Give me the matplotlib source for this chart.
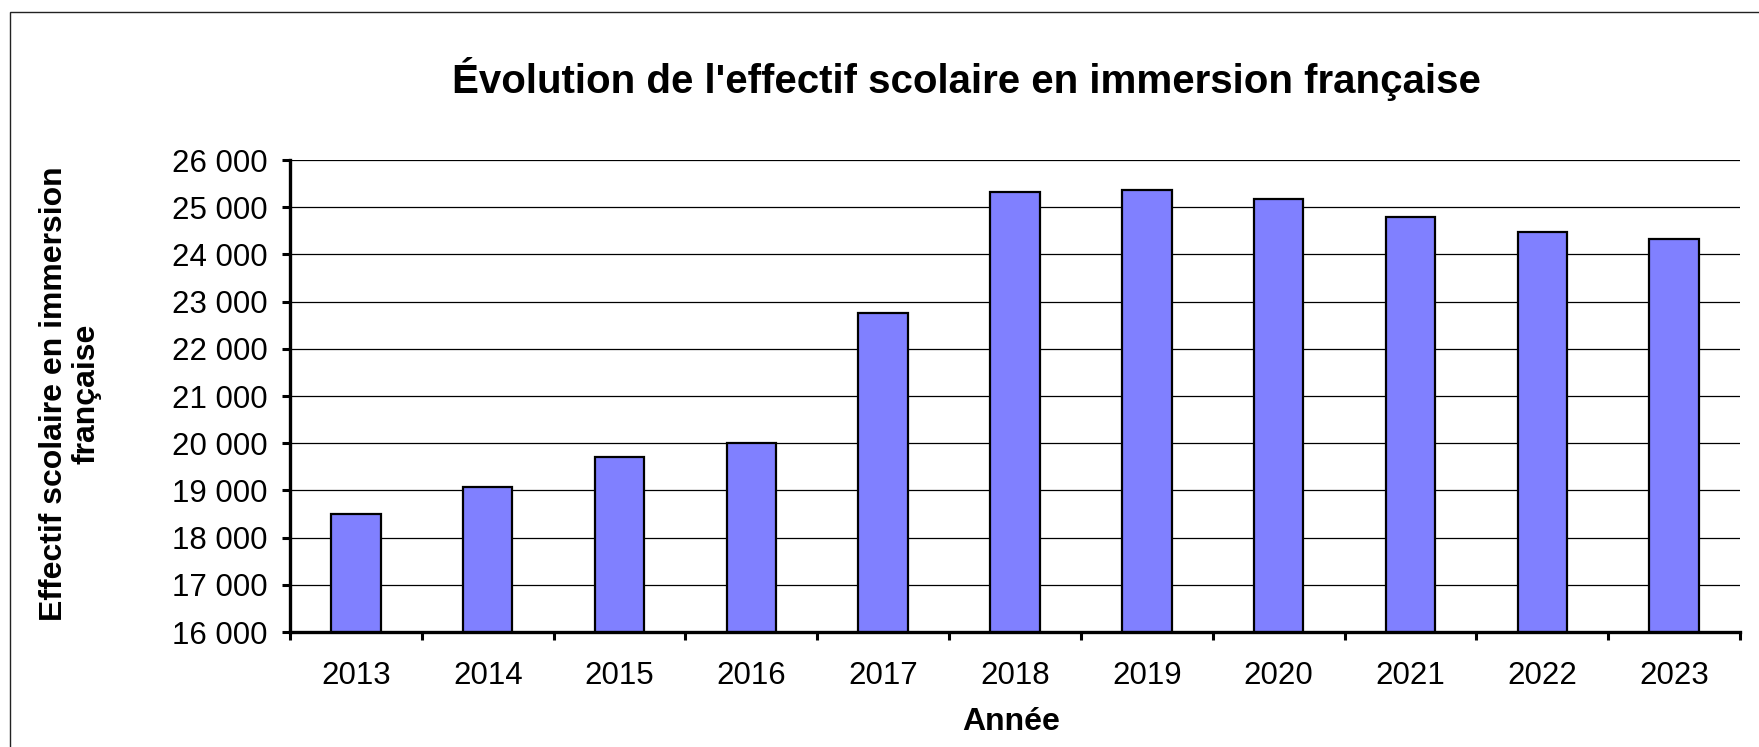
import matplotlib
matplotlib.use("Agg")
import matplotlib.pyplot as plt
from matplotlib.patches import Rectangle
from matplotlib.ticker import FixedLocator, FuncFormatter
import numpy as np

years = ["2013", "2014", "2015", "2016", "2017", "2018", "2019", "2020", "2021", "2022", "2023"]
effectifs = [18500, 19070, 19710, 20010, 22760, 25320, 25370, 25170, 24790, 24480, 24320]
yticks = [16000, 17000, 18000, 19000, 20000, 21000, 22000, 23000, 24000, 25000, 26000]

title = "Évolution de l'effectif scolaire en immersion française"
ylabel = "Effectif scolaire en immersion\nfrançaise"
xlabel = "Année"

plt.rcParams['font.family'] = ['Liberation Sans', 'DejaVu Sans']

W, H = 1759, 747
fig = plt.figure(figsize=(W / 100, H / 100), dpi=100)
fig.patch.set_facecolor("white")

# outer chart border (extends past right/bottom edges)
fig.patches.append(Rectangle((10 / W, -0.05), 1.2, 1 - 12 / H + 0.05,
                             transform=fig.transFigure, fill=False,
                             edgecolor="#222222", linewidth=1.0))

ax = fig.add_axes([290 / W, (H - 632) / H, 1450 / W, 472 / H])
x = np.arange(len(years))
ax.bar(x, effectifs, width=0.375, color="#8080FF", edgecolor="black",
       linewidth=1.6, zorder=3)

ax.set_xlim(-0.5, len(years) - 0.5)
ax.set_ylim(yticks[0], yticks[-1])
ax.set_yticks(yticks)
ax.yaxis.set_major_formatter(FuncFormatter(lambda v, p: f"{int(v):,}".replace(",", " ")))
ax.grid(axis="y", color="black", linewidth=0.9, zorder=0)

# x ticks at category boundaries, labels at centres
ax.xaxis.set_major_locator(FixedLocator(np.arange(-0.5, len(years), 1.0)))
ax.xaxis.set_major_formatter(FuncFormatter(lambda v, p: ""))
ax.xaxis.set_minor_locator(FixedLocator(x))
ax.set_xticklabels(years, minor=True)
ax.tick_params(axis="x", which="major", direction="out", length=6, width=2.2)
ax.tick_params(axis="x", which="minor", length=0, labelsize=22.5, pad=21)
ax.tick_params(axis="y", direction="out", length=6, width=2.2, labelsize=22.5, pad=10)

for s in ["top", "right"]:
    ax.spines[s].set_visible(False)
for s in ["left", "bottom"]:
    ax.spines[s].set_linewidth(2.4)
    ax.spines[s].set_zorder(4)

fig.text(966 / W, 1 - 79 / H, title, ha="center", va="center",
         fontsize=29, fontweight="bold")
fig.text(1011 / W, 1 - 722 / H, xlabel, ha="center", va="center",
         fontsize=23, fontweight="bold")
fig.text(70 / W, 1 - 394 / H, ylabel, ha="center", va="center",
         rotation=90, fontsize=23, fontweight="bold", linespacing=1.1)

fig.savefig("out.png", dpi=100, facecolor="white")
